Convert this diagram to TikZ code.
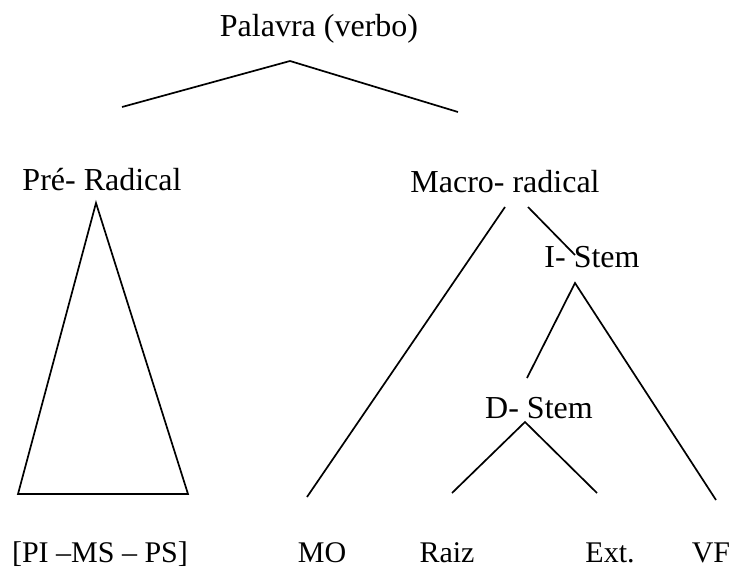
\documentclass[tikz,border=0pt]{standalone}
\usepackage{fontspec}
\setmainfont{Liberation Serif}
\begin{document}
\begin{tikzpicture}[x=1pt,y=-1pt,line width=1.7pt,
  lbl/.style={anchor=base,inner sep=0pt,font=\fontsize{32}{38}\selectfont},
  leaf/.style={lbl,font=\fontsize{30}{36}\selectfont}]
\useasboundingbox (0,0) rectangle (732,570);
% labels
\node[lbl] (palavra) at (319,37) {Palavra (verbo)};
\node[lbl] (prerad) at (102,190) {Pré- Radical};
\node[lbl] (macrorad) at (505,192) {Macro- radical};
\node[lbl] (istem) at (592,267) {I- Stem};
\node[lbl] (dstem) at (539,418) {D- Stem};
\node[leaf] (pims) at (100,562) {[PI –MS – PS]};
\node[leaf] (mo) at (322,562) {MO};
\node[leaf] (raiz) at (447,562) {Raiz};
\node[leaf] (ext) at (610,562) {Ext.};
\node[leaf] (vf) at (711,562) {VF};
% branch points
\coordinate (pal-top) at (290,61);
\coordinate (pal-l) at (122,107);
\coordinate (pal-r) at (458,112);
\coordinate (pre-top) at (96,203);
\coordinate (pre-bl) at (18,494);
\coordinate (pre-br) at (188,494);
\coordinate (mac-l) at (505,207);
\coordinate (mac-r) at (528,207);
\coordinate (mo-top) at (307,497);
\coordinate (ist-in) at (575,255);
\coordinate (ist-top) at (575,283);
\coordinate (dst-in) at (527,378);
\coordinate (vf-top) at (716,500);
\coordinate (dst-top) at (525,422);
\coordinate (raiz-top) at (452,493);
\coordinate (ext-top) at (597,493);
% tree
\draw (pal-l) -- (pal-top) -- (pal-r);
\draw (pre-top) -- (pre-bl) -- (pre-br) -- cycle;
\draw (mac-l) -- (mo-top);
\draw (mac-r) -- (ist-in);
\draw (dst-in) -- (ist-top) -- (vf-top);
\draw (raiz-top) -- (dst-top) -- (ext-top);
\end{tikzpicture}
\end{document}
